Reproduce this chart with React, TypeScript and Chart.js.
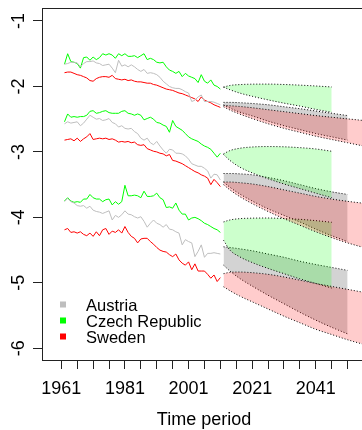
import React, { useEffect, useRef } from 'react';
import { Chart, registerables } from 'chart.js';

Chart.register(...registerables);

// ---------- data ----------
const YEARS = [
  1962, 1963, 1964, 1965, 1966, 1967, 1968, 1969, 1970, 1971,
  1972, 1973, 1974, 1975, 1976, 1977, 1978, 1979, 1980, 1981,
  1982, 1983, 1984, 1985, 1986, 1987, 1988, 1989, 1990, 1991,
  1992, 1993, 1994, 1995, 1996, 1997, 1998, 1999, 2000, 2001,
  2002, 2003, 2004, 2005, 2006, 2007, 2008, 2009, 2010, 2011,
];

const AUT_1 = [
  -1.66, -1.65, -1.63, -1.63, -1.64, -1.70, -1.65, -1.62, -1.62, -1.61,
  -1.64, -1.65, -1.68, -1.67, -1.66, -1.72, -1.79, -1.60, -1.69, -1.67,
  -1.70, -1.67, -1.70, -1.74, -1.77, -1.74, -1.80, -1.79, -1.80, -1.82,
  -1.86, -1.92, -1.96, -2.00, -2.02, -2.03, -2.03, -2.05, -2.08, -2.10,
  -2.23, -2.21, -2.16, -2.13, -2.23, -2.23, -2.23, -2.24, -2.26, -2.28,
];
const CZE_1 = [
  -1.66, -1.50, -1.62, -1.63, -1.65, -1.72, -1.56, -1.55, -1.60, -1.55,
  -1.59, -1.56, -1.50, -1.52, -1.50, -1.52, -1.57, -1.50, -1.53, -1.50,
  -1.54, -1.54, -1.53, -1.56, -1.53, -1.50, -1.59, -1.57, -1.59, -1.63,
  -1.64, -1.63, -1.70, -1.75, -1.77, -1.80, -1.77, -1.85, -1.80, -1.84,
  -1.86, -1.88, -1.94, -1.82, -1.92, -1.95, -1.90, -1.98, -2.00, -2.04,
];
const SWE_1 = [
  -1.79, -1.78, -1.78, -1.80, -1.82, -1.83, -1.85, -1.87, -1.91, -1.92,
  -1.88, -1.86, -1.85, -1.85, -1.86, -1.83, -1.88, -1.89, -1.90, -1.89,
  -1.91, -1.90, -1.92, -1.93, -1.93, -1.94, -1.95, -1.95, -1.97, -1.98,
  -2.00, -2.02, -2.04, -2.05, -2.06, -2.08, -2.10, -2.11, -2.13, -2.15,
  -2.17, -2.19, -2.23, -2.16, -2.21, -2.23, -2.25, -2.28, -2.30, -2.32,
];
const AUT_2 = [
  -2.57, -2.54, -2.56, -2.55, -2.54, -2.60, -2.56, -2.50, -2.44, -2.47,
  -2.50, -2.49, -2.52, -2.51, -2.49, -2.55, -2.57, -2.62, -2.60, -2.64,
  -2.65, -2.64, -2.69, -2.72, -2.79, -2.82, -2.79, -2.86, -2.89, -2.84,
  -2.91, -2.97, -3.02, -2.96, -2.97, -3.02, -3.02, -3.03, -3.06, -3.11,
  -3.18, -3.20, -3.22, -3.22, -3.25, -3.29, -3.40, -3.34, -3.35, -3.43,
];
const CZE_2 = [
  -2.54, -2.42, -2.47, -2.46, -2.47, -2.46, -2.46, -2.44, -2.38, -2.37,
  -2.41, -2.40, -2.38, -2.37, -2.40, -2.41, -2.41, -2.41, -2.38, -2.37,
  -2.41, -2.42, -2.44, -2.42, -2.44, -2.51, -2.49, -2.47, -2.50, -2.55,
  -2.56, -2.59, -2.61, -2.70, -2.52, -2.61, -2.64, -2.67, -2.72, -2.77,
  -2.80, -2.82, -2.84, -2.88, -2.91, -2.93, -2.96, -3.02, -3.08, -3.02,
];
const SWE_2 = [
  -2.82, -2.81, -2.80, -2.83, -2.79, -2.84, -2.80, -2.77, -2.72, -2.81,
  -2.80, -2.79, -2.80, -2.79, -2.81, -2.80, -2.82, -2.85, -2.84, -2.85,
  -2.84, -2.86, -2.85, -2.89, -2.90, -2.89, -2.95, -2.97, -2.99, -3.00,
  -3.02, -3.03, -3.06, -3.04, -3.13, -3.14, -3.16, -3.18, -3.21, -3.24,
  -3.27, -3.30, -3.32, -3.35, -3.37, -3.40, -3.50, -3.42, -3.47, -3.53,
];
const AUT_3 = [
  -3.76, -3.71, -3.76, -3.78, -3.82, -3.83, -3.82, -3.86, -3.83, -3.89,
  -3.91, -3.92, -3.94, -3.92, -3.90, -4.04, -3.97, -4.00, -3.96, -3.90,
  -3.95, -3.96, -3.99, -4.01, -3.99, -4.06, -4.15, -4.09, -4.04, -4.09,
  -4.11, -4.15, -4.11, -4.18, -4.19, -4.22, -4.24, -4.42, -4.34, -4.37,
  -4.39, -4.60, -4.52, -4.42, -4.61, -4.55, -4.55, -4.54, -4.55, -4.56,
];
const CZE_3 = [
  -3.75, -3.70, -3.75, -3.77, -3.76, -3.77, -3.72, -3.72, -3.65, -3.70,
  -3.72, -3.72, -3.76, -3.73, -3.72, -3.81, -3.76, -3.80, -3.76, -3.51,
  -3.67, -3.67, -3.66, -3.67, -3.70, -3.60, -3.68, -3.68, -3.67, -3.63,
  -3.70, -3.73, -3.85, -3.84, -3.86, -3.78, -3.89, -3.95, -3.95, -4.04,
  -4.01, -4.00, -4.02, -4.05, -4.09, -4.11, -4.14, -4.17, -4.19, -4.23,
];
const SWE_3 = [
  -4.19, -4.17, -4.23, -4.22, -4.24, -4.22, -4.26, -4.28, -4.24, -4.29,
  -4.22, -4.28, -4.19, -4.17, -4.26, -4.21, -4.23, -4.19, -4.24, -4.14,
  -4.23, -4.29, -4.32, -4.39, -4.33, -4.32, -4.32, -4.37, -4.41, -4.46,
  -4.50, -4.52, -4.53, -4.57, -4.60, -4.56, -4.65, -4.70, -4.73, -4.68,
  -4.80, -4.71, -4.82, -4.82, -4.82, -4.87, -4.93, -4.88, -4.98, -4.92,
];

// forecast bands (upper / lower bounds)
const FAN_YEARS = [2012, 2014, 2017, 2021, 2026, 2031, 2036, 2041, 2046, 2051, 2056, 2061];

const CZE_1_HI = [-2.01, -1.985, -1.972, -1.965, -1.964, -1.97, -1.98, -1.993, -2.008];
const CZE_1_LO = [-2.01, -2.05, -2.1, -2.15, -2.205, -2.255, -2.3, -2.35, -2.395];
const AUT_1_HI = [-2.243, -2.243, -2.248, -2.26, -2.28, -2.31, -2.34, -2.375, -2.41, -2.445];
const AUT_1_LO = [-2.28, -2.33, -2.39, -2.45, -2.53, -2.6, -2.66, -2.72, -2.77, -2.82];
const SWE_1_HI = [-2.29, -2.295, -2.305, -2.325, -2.355, -2.385, -2.415, -2.445, -2.47, -2.495, -2.52, -2.545];
const SWE_1_LO = [-2.31, -2.36, -2.42, -2.49, -2.57, -2.64, -2.7, -2.76, -2.81, -2.86, -2.91, -2.96];

const CZE_2_HI = [-3.03, -2.98, -2.945, -2.925, -2.918, -2.922, -2.935, -2.955, -2.99];
const CZE_2_LO = [-3.04, -3.13, -3.23, -3.32, -3.41, -3.49, -3.56, -3.63, -3.7];
const AUT_2_HI = [-3.33, -3.33, -3.335, -3.35, -3.39, -3.44, -3.5, -3.56, -3.61, -3.65];
const AUT_2_LO = [-3.46, -3.54, -3.64, -3.75, -3.87, -3.97, -4.07, -4.18, -4.28, -4.37];
const SWE_2_HI = [-3.46, -3.46, -3.47, -3.49, -3.53, -3.58, -3.63, -3.68, -3.72, -3.755, -3.785, -3.815];
const SWE_2_LO = [-3.5, -3.58, -3.68, -3.79, -3.91, -4.02, -4.12, -4.22, -4.31, -4.39, -4.46, -4.53];

const CZE_3_HI = [-4.07, -4.04, -4.02, -4.012, -4.01, -4.018, -4.03, -4.05, -4.075];
const CZE_3_LO = [-4.35, -4.5, -4.6, -4.69, -4.78, -4.86, -4.94, -5.01, -5.08];
const AUT_3_HI = [-4.45, -4.46, -4.48, -4.51, -4.56, -4.61, -4.67, -4.72, -4.765, -4.81];
const AUT_3_LO = [-4.73, -4.82, -4.93, -5.05, -5.19, -5.32, -5.45, -5.57, -5.68, -5.78];
const SWE_3_HI = [-4.86, -4.84, -4.835, -4.845, -4.87, -4.91, -4.96, -5.01, -5.055, -5.1, -5.145, -5.19];
const SWE_3_LO = [-5.06, -5.12, -5.2, -5.29, -5.4, -5.51, -5.61, -5.71, -5.79, -5.87, -5.94, -6.01];

const COUNTRIES = ['Austria', 'Czech Republic', 'Sweden'];
const X_TICKS = [1961, 1966, 1971, 1976, 1981, 1986, 1991, 1996, 2001, 2006, 2011, 2016, 2021, 2026, 2031, 2036, 2041, 2046, 2051, 2056];
const X_LABELS = [1961, 1981, 2001, 2021, 2041];
const Y_TICKS = [-6, -5, -4, -3, -2, -1];
const X_TITLE = 'Time period';

// ---------- styles ----------
const FONT = '"Liberation Sans", Arial, Helvetica, sans-serif';
const LINE_COLORS = ['#bebebe', '#00ff00', '#ff0000'];
const FILL_COLORS = ['rgba(128,128,128,0.35)', 'rgba(0,255,0,0.2)', 'rgba(255,0,0,0.2)'];
const AXIS_COLOR = '#222';

const pts = (xs: number[], ys: number[]) => ys.map((y, i) => ({ x: xs[i], y }));

function histLine(values: number[], c: number) {
  return {
    data: pts(YEARS, values),
    borderColor: LINE_COLORS[c],
    borderWidth: 1,
    pointRadius: 0,
    fill: false,
    tension: 0,
    order: 0,
  };
}

function fan(hi: number[], lo: number[], c: number) {
  const common = {
    borderColor: '#000',
    borderWidth: 1,
    borderDash: [1, 2],
    pointRadius: 0,
    cubicInterpolationMode: 'monotone',
    order: 3 - c,
  };
  return [
    { ...common, data: pts(FAN_YEARS, hi), fill: false },
    { ...common, data: pts(FAN_YEARS, lo), fill: '-1', backgroundColor: FILL_COLORS[c] },
  ];
}

const framePlugin = {
  id: 'frameAndText',
  afterDraw(chart: any) {
    const { ctx, chartArea: a, scales } = chart;
    const xs = scales.x;
    const ys = scales.y;
    ctx.save();
    ctx.strokeStyle = AXIS_COLOR;
    ctx.lineWidth = 1;
    ctx.beginPath();
    ctx.moveTo(a.left, a.top + 0.5);
    ctx.lineTo(a.right, a.top + 0.5);
    ctx.moveTo(a.right - 0.5, a.top);
    ctx.lineTo(a.right - 0.5, a.bottom);
    ctx.stroke();

    ctx.fillStyle = '#000';
    ctx.font = `18px ${FONT}`;
    ctx.textAlign = 'center';
    ctx.textBaseline = 'alphabetic';
    X_LABELS.forEach((v) => ctx.fillText(String(v), xs.getPixelForValue(v), 393.5));
    ctx.fillText(X_TITLE, 204, 424.5);

    Y_TICKS.forEach((v) => {
      ctx.save();
      ctx.translate(23.5, ys.getPixelForValue(v));
      ctx.rotate(-Math.PI / 2);
      ctx.fillText(String(v), 0, 0);
      ctx.restore();
    });

    ctx.font = `16.5px ${FONT}`;
    ctx.textAlign = 'left';
    COUNTRIES.forEach((name, i) => {
      const by = 310.5 + i * 16;
      ctx.fillStyle = LINE_COLORS[i];
      ctx.fillRect(60, by - 9, 6, 6);
      ctx.fillStyle = '#000';
      ctx.fillText(name, 86, by);
    });
    ctx.restore();
  },
};

export default function App() {
  const canvasRef = useRef<HTMLCanvasElement | null>(null);

  useEffect(() => {
    const canvas = canvasRef.current;
    if (!canvas) return;
    const datasets: any[] = [
      histLine(AUT_1, 0), histLine(CZE_1, 1), histLine(SWE_1, 2),
      histLine(AUT_2, 0), histLine(CZE_2, 1), histLine(SWE_2, 2),
      histLine(AUT_3, 0), histLine(CZE_3, 1), histLine(SWE_3, 2),
      ...fan(AUT_1_HI, AUT_1_LO, 0), ...fan(AUT_2_HI, AUT_2_LO, 0), ...fan(AUT_3_HI, AUT_3_LO, 0),
      ...fan(CZE_1_HI, CZE_1_LO, 1), ...fan(CZE_2_HI, CZE_2_LO, 1), ...fan(CZE_3_HI, CZE_3_LO, 1),
      ...fan(SWE_1_HI, SWE_1_LO, 2), ...fan(SWE_2_HI, SWE_2_LO, 2), ...fan(SWE_3_HI, SWE_3_LO, 2),
    ];
    const axisCommon = {
      type: 'linear' as const,
      grid: {
        display: true,
        drawOnChartArea: false,
        drawTicks: true,
        tickLength: 9,
        color: AXIS_COLOR,
        lineWidth: 1,
      },
      border: { display: true, color: AXIS_COLOR, width: 1 },
      ticks: { display: false },
    };
    const chart = new Chart(canvas, {
      type: 'line',
      data: { datasets },
      options: {
        responsive: false,
        animation: false,
        events: [],
        layout: { padding: { left: 33, top: 8, right: 10, bottom: 61 } },
        plugins: { legend: { display: false }, tooltip: { enabled: false } },
        scales: {
          x: {
            ...axisCommon,
            min: 1954.93,
            max: 2076.9,
            afterBuildTicks: (s: any) => { s.ticks = X_TICKS.map((value) => ({ value })); },
          },
          y: {
            ...axisCommon,
            min: -6.179,
            max: -0.8014,
            afterBuildTicks: (s: any) => { s.ticks = Y_TICKS.map((value) => ({ value })); },
          },
        },
      } as any,
      plugins: [framePlugin],
    });
    return () => chart.destroy();
  }, []);

  return (
    <div style={{ position: 'fixed', left: 0, top: 0, width: 362, height: 430, overflow: 'hidden', background: '#fff' }}>
      <canvas ref={canvasRef} width={440} height={430} style={{ display: 'block', width: 440, height: 430 }} />
    </div>
  );
}
